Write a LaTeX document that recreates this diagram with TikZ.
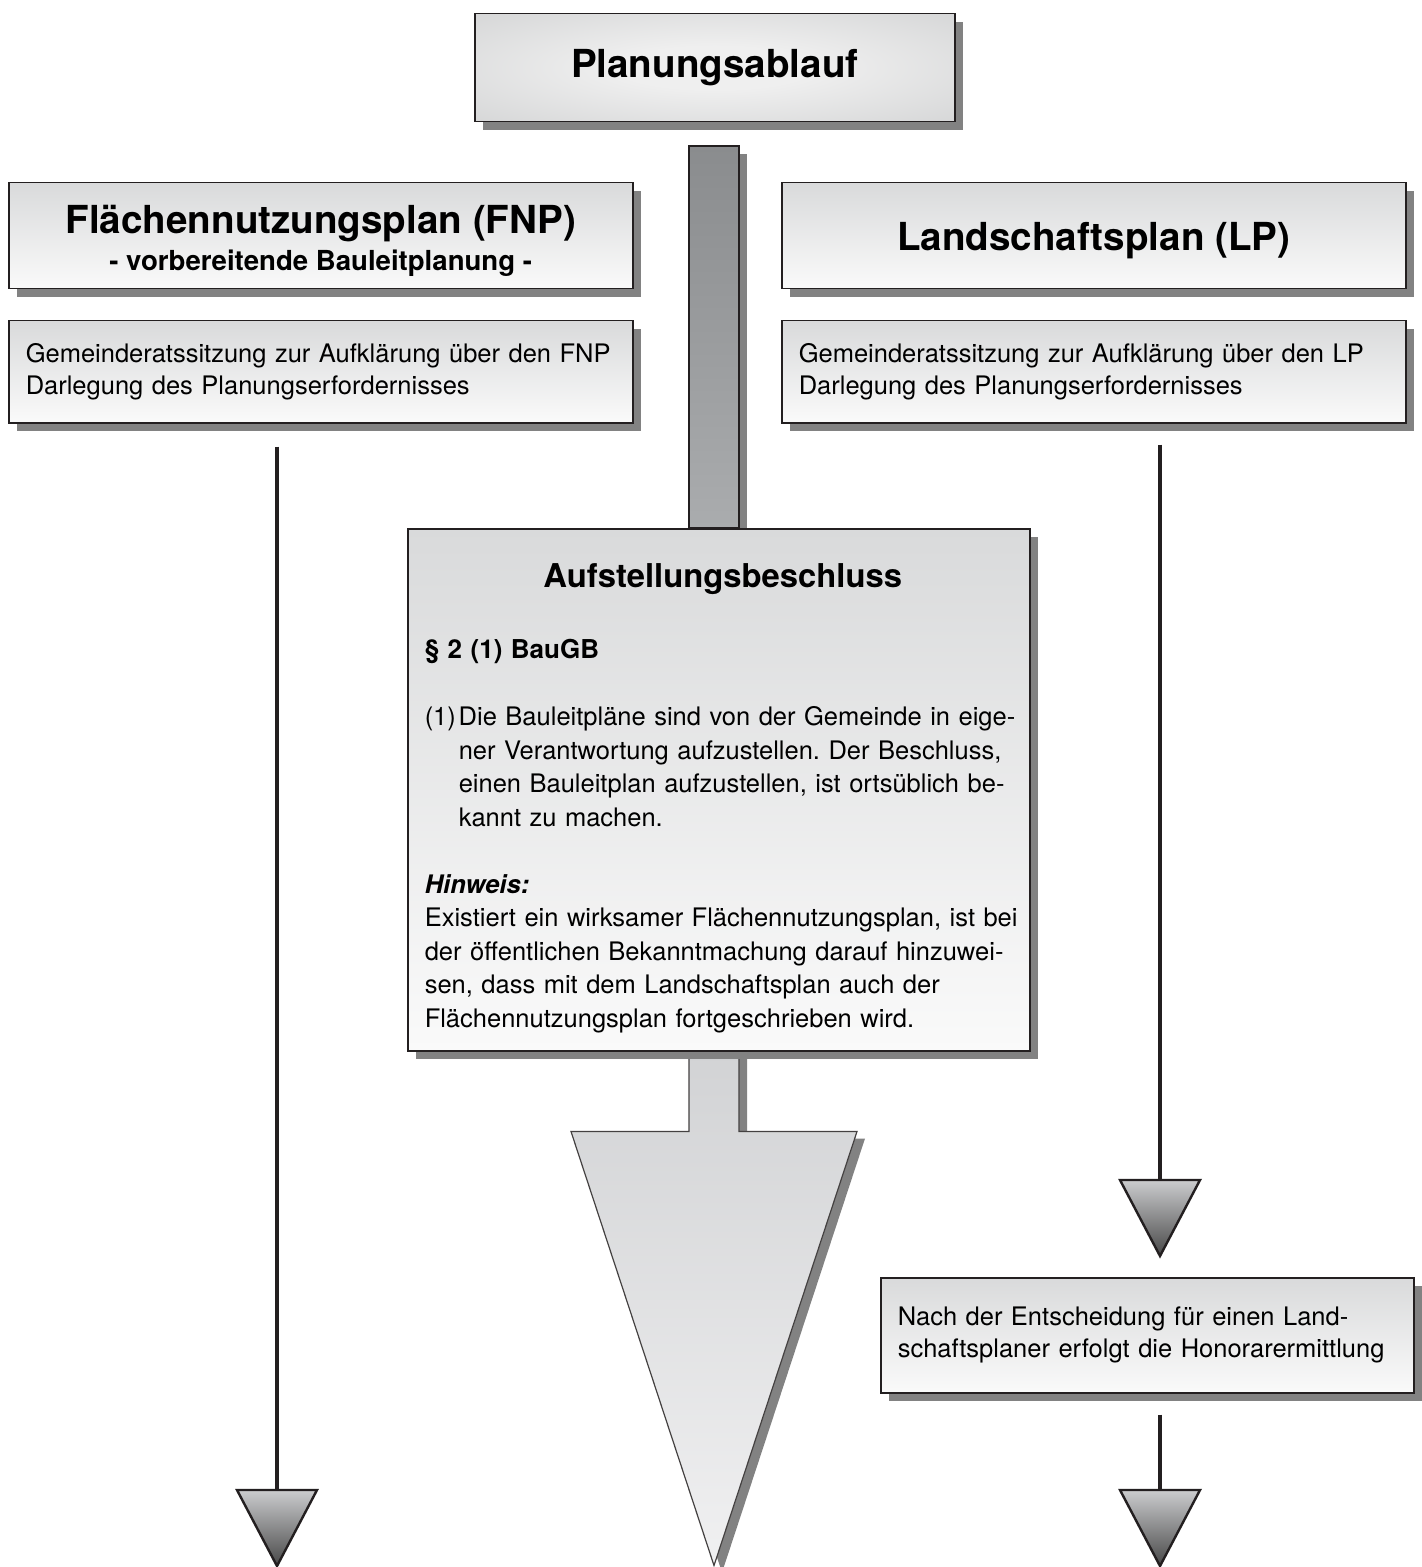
\documentclass[tikz,border=0pt]{standalone}
\usepackage{fontspec}
\setmainfont{TeX Gyre Heros}
\usetikzlibrary{shadows,backgrounds}
\frenchspacing

\definecolor{ink}{HTML}{231F20}
\definecolor{shadowgray}{HTML}{828282}
\definecolor{boxtop}{HTML}{D9DADB}
\definecolor{boxbottom}{HTML}{FAFAFA}
\definecolor{glowin}{HTML}{EFEFEF}
\definecolor{glowout}{HTML}{CDCECF}
\definecolor{shafttop}{HTML}{8A8C8E}
\definecolor{shaftbottom}{HTML}{AAACAE}
\definecolor{pointtop}{HTML}{D2D3D5}
\definecolor{pointbottom}{HTML}{F0F0F1}
\definecolor{tiptop}{HTML}{CBCCCE}
\definecolor{tipbottom}{HTML}{484848}

\pgfdeclareradialshading{glow}{\pgfpoint{0bp}{0bp}}{color(0bp)=(glowin); color(10bp)=(glowin); color(45bp)=(glowout); color(75bp)=(glowout)}

\tikzset{
  dropped/.style={drop shadow={shadow xshift=4pt, shadow yshift=-4pt, fill=shadowgray, opacity=1}},
  box/.style={draw=ink, line width=0.75pt, anchor=north west, inner xsep=8.5pt, inner ysep=0pt,
    top color=boxtop, bottom color=boxbottom, dropped},
  headbox/.style={box, minimum width=312pt, minimum height=53pt, align=center,
    font=\bfseries\fontsize{19.3}{18.5}\selectfont},
  textbox/.style={box, text width=295pt, minimum height=51pt, align=left,
    font=\fontsize{12.75}{16}\selectfont},
  link/.style={draw=ink, line width=2pt},
  tip/.style={draw=ink, line width=1.2pt, top color=tiptop, bottom color=tipbottom},
  shaft/.style={draw=ink, line width=0.75pt, top color=shafttop, bottom color=shaftbottom, dropped},
  point/.style={draw=ink!85, line width=0.6pt, top color=pointtop, bottom color=pointbottom,
    drop shadow={shadow xshift=4pt, shadow yshift=-3.5pt, fill=shadowgray, opacity=1}}
}

\begin{document}
\begin{tikzpicture}[x=0.5pt,y=-0.5pt]
  \useasboundingbox (0,0) rectangle (1421,1567);
  % Title
  \node[box, shading=glow, minimum width=240pt, minimum height=54pt,
    font=\bfseries\fontsize{19.3}{23}\selectfont] (titel) at (474,13) {Planungsablauf};
  % FNP column
  \node[headbox] (fnphead) at (8,182)
    {\rule{0pt}{19pt}Flächennutzungsplan (FNP)\\{\fontsize{13.8}{16}\selectfont - vorbereitende Bauleitplanung -}};
  \node[textbox] (fnpbody) at (8,320)
    {Gemeinderatssitzung zur Aufklärung über den FNP\\Darlegung des Planungserfordernisses};
  % LP column
  \node[headbox] (lphead) at (781,182) {\rule{0pt}{19pt}Landschaftsplan (LP)};
  \node[textbox] (lpbody) at (781,320)
    {Gemeinderatssitzung zur Aufklärung über den LP\\Darlegung des Planungserfordernisses};
  \node[textbox, text width=249.5pt, minimum height=57.5pt] (honorar) at (880,1277)
    {Nach der Entscheidung für einen Land-\\schaftsplaner erfolgt die Honorarermittlung};
  % Middle
  \node[box, text width=294pt, align=left, font=\fontsize{12.75}{16.75}\selectfont]
    (beschluss) at (407,528) {%
    \rule{0pt}{29.5pt}\makebox[298pt]{\bfseries\fontsize{16.4}{16.75}\selectfont Aufstellungsbeschluss}\\[18.75pt]
    {\bfseries\fontsize{13}{16.75}\selectfont § 2 (1) BauGB}\\[16.75pt]
    \mbox{\makebox[17pt][l]{(1)}Die Bauleitpläne sind von der Gemeinde in eige-}\\
    \mbox{\hspace*{17pt}ner Verantwortung aufzustellen. Der Beschluss,}\\
    \mbox{\hspace*{17pt}einen Bauleitplan aufzustellen, ist ortsüblich be-}\\
    \mbox{\hspace*{17pt}kannt zu machen.}\\[16.75pt]
    {\bfseries\itshape Hinweis:}\\
    \mbox{Existiert ein wirksamer Flächennutzungsplan, ist bei}\\
    \mbox{der öffentlichen Bekanntmachung darauf hinzuwei-}\\
    sen, dass mit dem Landschaftsplan auch der\\
    Flächennutzungsplan fortgeschrieben wird.\rule[-11.75pt]{0pt}{0pt}};
  % Arrow ends
  \coordinate (fnptip) at (277,1490);
  \coordinate (lptip) at (1160,1180);
  \coordinate (endtip) at (1160,1490);
  \coordinate (mid) at (714,146);
  % Lines
  \draw[link, shorten <=11.5pt] (fnpbody.south -| fnptip) -- (fnptip);
  \draw[link, shorten <=10.5pt] (lpbody.south -| lptip) -- (lptip);
  \draw[link, shorten <=10.5pt] (honorar.south -| endtip) -- (endtip);
  \foreach \t in {fnptip,lptip,endtip}
    \draw[tip] (\t) ++(-40,0) -- ++(80,0) -- ++(-40,76) -- cycle;
  % Broad arrow behind the boxes
  \begin{pgfonlayer}{background}
    \draw[shaft] ([xshift=-12.5pt]mid) rectangle ([xshift=12.5pt]beschluss.north -| mid);
    \draw[point] (beschluss.south -| mid) ++(-25,0) -- ++(0,80) -- ++(-118,0)
      -- ++(143,434) -- ++(143,-434) -- ++(-118,0) -- ++(0,-80);
  \end{pgfonlayer}
\end{tikzpicture}
\end{document}
